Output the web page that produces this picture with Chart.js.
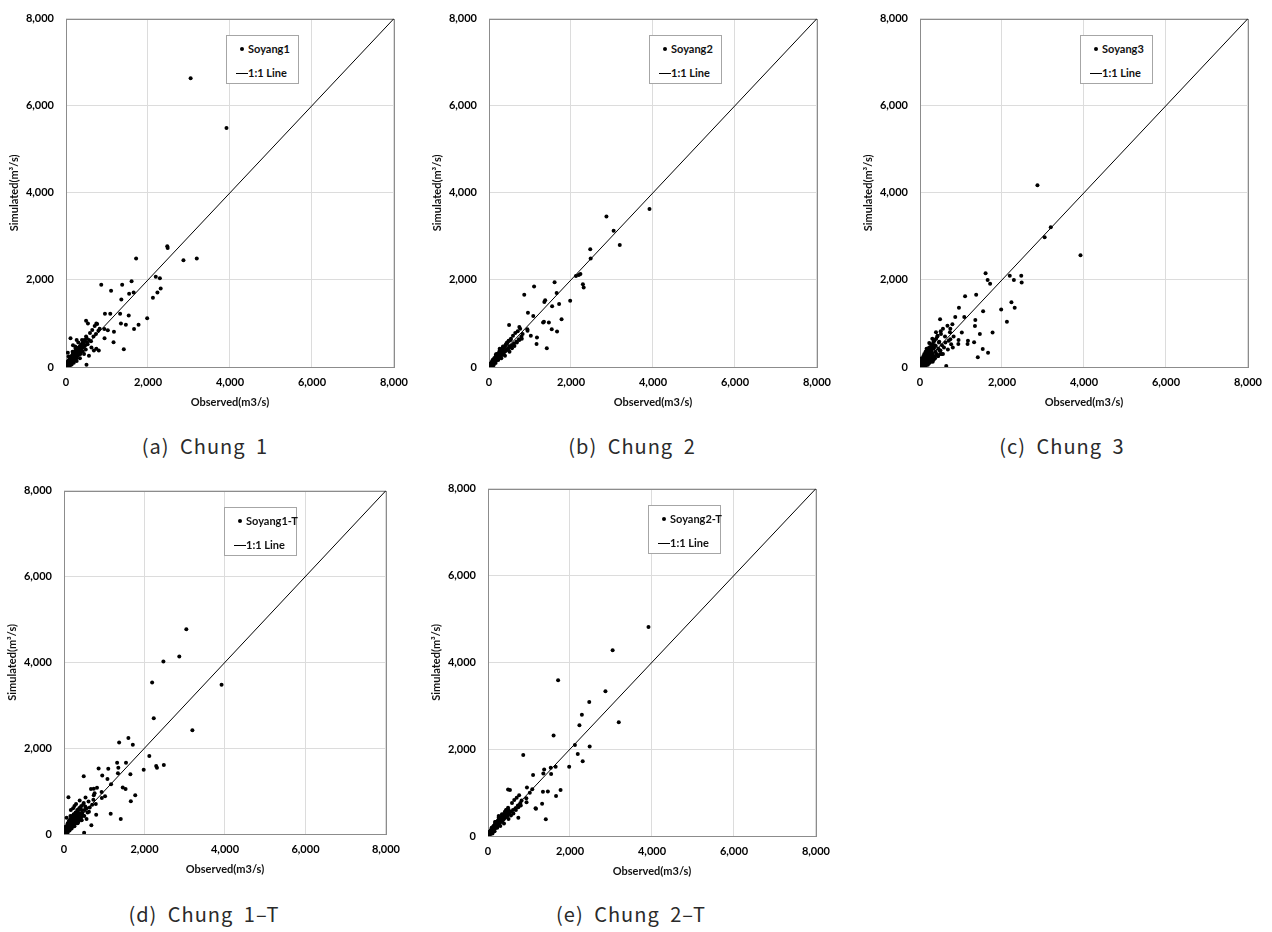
<!DOCTYPE html>
<html>
<head>
<meta charset="utf-8">
<script src="https://cdn.jsdelivr.net/npm/chart.js@4.4.1/dist/chart.umd.min.js"></script>
<style>
  body { margin: 0; background: #fff; width: 1272px; height: 932px; position: relative; overflow: hidden; }
  canvas { position: absolute; }
  .legend { position: absolute; width: 73px; height: 49px; border: 1px solid #a6a6a6; background: #fff;
            box-sizing: border-box; font: bold 11px Lato, sans-serif; color: #111; }
  .legend .row { position: absolute; left: 0; right: 0; height: 14px; line-height: 14px; }
  .legend .dot { position: absolute; left: 13px; top: 5px; width: 4px; height: 4px; border-radius: 50%; background: #000; }
  .legend .seg { position: absolute; left: 9px; top: 7px; width: 12px; height: 1px; background: #000; }
  .legend .txt { position: absolute; left: 21px; top: 0; white-space: nowrap; }
  .cap { position: absolute; font: 20px "Noto Sans CJK KR", sans-serif; color: #2a2a2a; line-height: 20px;
         letter-spacing: 1px; word-spacing: 5px; transform: translateX(-50%); white-space: pre; }
</style>
</head>
<body>
<script>
// valores (m3/s)
const seriesNames = ['Soyang1', 'Soyang2', 'Soyang3', 'Soyang1-T', 'Soyang2-T'];
const captions = ['(a) Chung 1', '(b) Chung 2', '(c) Chung 3', '(d) Chung 1\u2013T', '(e) Chung 2\u2013T'];
const axisTicks = [0, 2000, 4000, 6000, 8000];
const oneToOne = [0, 8000];

const observed = [
  3915, 3040, 3190, 2865, 2470, 2480, 2290, 2310, 2230, 2190, 2120, 1980, 1710, 1600, 1650, 1540, 1770, 1660,
  1370, 1350, 1340, 1460, 1530, 1410, 1100, 860, 1320, 950, 1080, 1170, 1020, 935, 1160, 940, 490, 740,
  15, 22, 28, 35, 41, 48, 55, 62, 70, 77,
  85, 92, 98, 105, 112, 120, 128, 135, 142, 150,
  158, 165, 172, 180, 188, 196, 205, 214, 222, 231,
  240, 250, 262, 275, 288, 300, 315, 330, 345, 360,
  378, 395, 412, 430, 450, 470, 490, 512, 535, 560,
  585, 610, 640, 670, 700, 730, 760, 790, 820, 45,
  65, 88, 110, 138, 160, 190, 225, 260, 300, 340,
  390, 440, 500, 560, 620, 680, 740, 800, 170, 260,
  8, 12, 18, 25, 33, 38, 44, 52, 58, 66,
  73, 81, 87, 95, 102, 108, 116, 124, 131, 139,
  146, 154, 162, 169, 176, 184, 192, 201, 209, 218,
  227, 236, 246, 256, 268, 281, 294, 308, 322, 337,
  352, 368, 386, 404, 422, 442, 462, 482, 505, 528,
  20, 30, 40, 50, 60, 75, 90, 100, 115, 130,
  145, 160, 175, 195, 215, 235, 255, 280, 310, 350,
  10, 25, 35, 55, 80, 95, 125, 155, 185, 210
];

const simA = [
  5490, 6630, 2490, 2450, 2770, 2730, 2040, 1800, 1710, 2070, 1590, 1120, 2490, 1970, 1710, 1680, 970, 870,
  1890, 1550, 1000, 970, 1180, 410, 1750, 1890, 1220, 1220, 1220, 810, 845, 870, 570, 660, 1060, 996,
  40, 10, 90, 20, 60, 130, 30, 80, 150, 50,
  110, 200, 70, 140, 180, 90, 230, 120, 170, 260,
  140, 210, 300, 160, 250, 180, 320, 230, 280, 420,
  270, 350, 310, 400, 330, 380, 450, 360, 480, 410,
  520, 440, 560, 470, 620, 500, 700, 560, 1000, 620,
  780, 590, 850, 700, 940, 760, 990, 830, 880, 330,
  240, 20, 660, 60, 350, 100, 470, 140, 560, 200,
  620, 300, 50, 260, 450, 380, 420, 380, 500, 620,
  30, 5, 60, 15, 80, 45, 20, 110, 70, 40,
  150, 60, 120, 50, 190, 95, 140, 70, 210, 160,
  110, 250, 130, 220, 290, 150, 240, 180, 330, 200,
  300, 260, 390, 210, 340, 300, 420, 280, 380, 460,
  330, 500, 440, 360, 540, 470, 610, 400, 660, 520,
  50, 10, 90, 35, 120, 60, 170, 80, 230, 110,
  190, 280, 140, 330, 230, 180, 400, 260, 450, 300,
  20, 70, 15, 100, 40, 180, 90, 260, 130, 350
];

const simB = [
  3630, 3130, 2800, 3457, 2702, 2490, 1902, 1826, 2136, 2113, 2090, 1524, 1449, 1947, 1698, 1396, 1094, 815,
  1532, 1494, 1041, 1019, 868, 430, 1849, 1660, 1019, 1245, 1170, 679, 717, 868, 528, 830, 966, 921,
  20, 40, 15, 60, 30, 80, 45, 100, 60, 120,
  70, 150, 90, 130, 170, 100, 200, 120, 180, 140,
  230, 150, 260, 170, 220, 190, 300, 180, 280, 250,
  320, 230, 350, 260, 400, 280, 380, 300, 450, 330,
  470, 360, 520, 390, 560, 420, 600, 470, 650, 500,
  720, 540, 780, 580, 820, 640, 880, 700, 760, 80,
  110, 160, 40, 200, 90, 290, 160, 380, 200, 470,
  260, 560, 350, 430, 480, 560, 620, 650, 290, 420,
  12, 8, 30, 22, 28, 55, 40, 75, 45, 60,
  110, 65, 95, 140, 80, 120, 170, 100, 145, 190,
  120, 200, 150, 230, 160, 250, 175, 210, 290, 190,
  280, 210, 320, 240, 350, 260, 300, 390, 280, 420,
  330, 450, 360, 500, 390, 540, 430, 600, 470, 620,
  25, 45, 30, 70, 50, 100, 75, 130, 95, 160,
  180, 140, 220, 180, 260, 220, 330, 250, 370, 300,
  18, 30, 50, 45, 100, 85, 150, 140, 230, 200
];

const simC = [
  2566, 2981, 3208, 4174, 2098, 1940, 2000, 1358, 1487, 2098, 1041, 1321, 1909, 2151, 2000, 1283, 792, 325,
  1660, 1079, 943, 755, 415, 226, 1623, 1147, 566, 1358, 1147, 604, 792, 528, 528, 620, 1094, 640,
  60, 10, 120, 30, 200, 50, 90, 20, 160, 70,
  250, 40, 130, 300, 80, 200, 60, 350, 150, 100,
  280, 120, 400, 190, 90, 330, 250, 140, 450, 200,
  360, 160, 520, 280, 200, 450, 300, 580, 240, 500,
  350, 650, 280, 720, 420, 580, 300, 760, 500, 880,
  450, 700, 25, 950, 600, 800, 520, 980, 700, 150,
  30, 220, 100, 40, 420, 130, 550, 170, 650, 180,
  800, 250, 380, 300, 560, 400, 880, 450, 230, 120,
  20, 40, 5, 60, 15, 90, 30, 10, 120, 50,
  20, 160, 60, 30, 200, 90, 250, 40, 170, 80,
  300, 60, 220, 110, 350, 140, 50, 280, 180, 400,
  90, 320, 180, 450, 130, 360, 250, 520, 160, 430,
  600, 200, 480, 300, 700, 250, 560, 380, 820, 300,
  70, 10, 100, 25, 150, 40, 190, 60, 230, 20,
  100, 260, 80, 330, 150, 420, 200, 380, 120, 620,
  45, 5, 80, 20, 140, 30, 210, 70, 300, 100
];

const simD = [
  3477, 4768, 2415, 4134, 4019, 1605, 1582, 1544, 2697, 3530, 1819, 1498, 2078, 2239, 1391, 1658, 902, 764,
  2132, 1544, 1414, 1085, 1047, 351, 1521, 1528, 1658, 1360, 1284, 1161, 879, 978, 474, 841, 1345, 1054,
  50, 20, 110, 30, 170, 60, 40, 140, 90, 200,
  60, 250, 120, 180, 90, 300, 150, 220, 110, 340,
  180, 260, 140, 380, 230, 200, 420, 260, 300, 180,
  460, 300, 350, 240, 500, 380, 320, 560, 400, 290,
  600, 450, 380, 650, 500, 430, 720, 560, 850, 600,
  500, 760, 620, 1050, 680, 800, 950, 700, 1080, 150,
  380, 30, 856, 80, 420, 130, 600, 180, 700, 250,
  780, 320, 31, 350, 520, 206, 900, 450, 560, 650,
  25, 10, 50, 30, 90, 20, 70, 120, 40, 100,
  60, 150, 90, 200, 70, 170, 120, 250, 100, 210,
  280, 130, 230, 320, 150, 260, 360, 190, 300, 240,
  400, 210, 330, 280, 460, 250, 390, 500, 300, 430,
  550, 320, 480, 620, 380, 560, 450, 700, 420, 640,
  60, 15, 110, 40, 150, 55, 200, 80, 250, 100,
  230, 130, 300, 190, 350, 240, 420, 280, 480, 330,
  35, 70, 20, 130, 60, 190, 110, 260, 150, 320
];

const simE = [
  4815, 4279, 2619, 3336, 3087, 2060, 2792, 1721, 2551, 1887, 2098, 1592, 3585, 2317, 1592, 1426, 1057, 921,
  1532, 1442, 1019, 1026, 1570, 385, 1404, 1864, 740, 1117, 1079, 626, 996, 870, 640, 780, 1072, 423,
  30, 50, 20, 70, 40, 90, 60, 110, 80, 130,
  90, 160, 110, 150, 190, 130, 220, 150, 200, 170,
  250, 180, 280, 200, 240, 220, 330, 210, 300, 270,
  350, 260, 380, 290, 420, 320, 410, 340, 480, 370,
  500, 400, 560, 430, 600, 460, 650, 520, 1060, 560,
  760, 600, 830, 640, 880, 700, 940, 760, 820, 100,
  130, 190, 60, 230, 110, 320, 190, 420, 230, 500,
  290, 600, 390, 470, 520, 600, 660, 700, 320, 460,
  15, 25, 12, 40, 30, 60, 45, 55, 80, 70,
  95, 75, 120, 100, 140, 115, 130, 165, 125, 180,
  160, 210, 175, 195, 240, 190, 250, 225, 270, 240,
  300, 250, 290, 330, 280, 360, 320, 390, 350, 410,
  440, 380, 480, 430, 520, 470, 560, 510, 600, 560,
  35, 25, 60, 45, 85, 70, 110, 95, 140, 125,
  200, 170, 230, 210, 270, 250, 320, 300, 380, 360,
  20, 45, 40, 75, 95, 130, 140, 190, 210, 260
];

const simulated = [simA, simB, simC, simD, simE];

// posição da área do gráfico de cada painel na página
const panels = [
  { L: 66,  T: 13,  R: 395,  B: 367, capX: 205, capY: 436 },
  { L: 489, T: 13,  R: 818,  B: 367, capX: 632, capY: 436 },
  { L: 920, T: 13,  R: 1249, B: 367, capX: 1062, capY: 436 },
  { L: 64,  T: 485, R: 387,  B: 834, capX: 204, capY: 904 },
  { L: 488, T: 483, R: 817,  B: 836, capX: 631, capY: 904 }
];

const Y_AXIS_W = 66, X_AXIS_H = 50, PAD_TOP = 13, PAD_RIGHT = 22;
const fonte = { family: 'Lato, sans-serif', size: 11, weight: 'bold' };

const plotBorder = {
  id: 'plotBorder',
  beforeDatasetsDraw(chart) {
    const a = chart.chartArea, ctx = chart.ctx;
    ctx.save();
    ctx.strokeStyle = '#8c8c8c';
    ctx.lineWidth = 1;
    ctx.strokeRect(Math.round(a.left) + 0.5, Math.round(a.top) + 0.5,
                   Math.round(a.right - a.left), Math.round(a.bottom - a.top));
    ctx.restore();
  }
};

function eixo(titulo, pos) {
  return {
    type: 'linear',
    position: pos,
    min: oneToOne[0],
    max: oneToOne[1],
    afterBuildTicks: s => { s.ticks = axisTicks.map(v => ({ value: v })); },
    afterFit: s => { if (pos === 'left') s.width = Y_AXIS_W; else s.height = X_AXIS_H; },
    border: { display: false },
    grid: { color: '#dcdcdc', lineWidth: 1, drawTicks: false },
    ticks: {
      color: '#000',
      font: fonte,
      padding: pos === 'left' ? 12 : 9,
      maxRotation: 0,
      callback: v => v.toLocaleString('en-US')
    },
    title: {
      display: true,
      text: titulo,
      color: '#111',
      font: fonte,
      padding: pos === 'left' ? { top: 8, bottom: 0 } : { top: 0, bottom: 8 }
    }
  };
}

function criarPainel(i) {
  const p = panels[i];
  const canvas = document.createElement('canvas');
  canvas.width = (p.R - p.L) + Y_AXIS_W + PAD_RIGHT;
  canvas.height = (p.B - p.T) + PAD_TOP + X_AXIS_H;
  canvas.style.left = (p.L - Y_AXIS_W) + 'px';
  canvas.style.top = (p.T - PAD_TOP) + 'px';
  document.body.appendChild(canvas);

  const pontos = observed.map((x, k) => ({ x: x, y: simulated[i][k] }));

  new Chart(canvas, {
    type: 'scatter',
    data: {
      datasets: [{
        label: seriesNames[i],
        data: pontos,
        pointRadius: 2,
        pointBackgroundColor: '#000',
        pointBorderWidth: 0
      }, {
        label: '1:1 Line',
        type: 'line',
        data: oneToOne.map(v => ({ x: v, y: v })),
        borderColor: '#000',
        borderWidth: 1,
        pointRadius: 0,
        fill: false
      }]
    },
    options: {
      responsive: false,
      animation: false,
      layout: { padding: { top: PAD_TOP, right: PAD_RIGHT, left: 0, bottom: 0 } },
      plugins: { legend: { display: false }, tooltip: { enabled: false } },
      scales: {
        x: eixo('Observed(m3/s)', 'bottom'),
        y: eixo('Simulated(m\u00b3/s)', 'left')
      }
    },
    plugins: [plotBorder]
  });

  // legenda dentro da área do gráfico
  const leg = document.createElement('div');
  leg.className = 'legend';
  leg.style.left = (p.L + 160) + 'px';
  leg.style.top = (p.T + 22) + 'px';
  leg.innerHTML =
    '<div class="row" style="top:6px"><span class="dot"></span><span class="txt">' + seriesNames[i] + '</span></div>' +
    '<div class="row" style="top:30px"><span class="seg"></span><span class="txt">1:1 Line</span></div>';
  document.body.appendChild(leg);

  const cap = document.createElement('div');
  cap.className = 'cap';
  cap.style.left = p.capX + 'px';
  cap.style.top = p.capY + 'px';
  cap.textContent = captions[i];
  document.body.appendChild(cap);
}

panels.forEach((p, i) => criarPainel(i));
</script>
</body>
</html>
